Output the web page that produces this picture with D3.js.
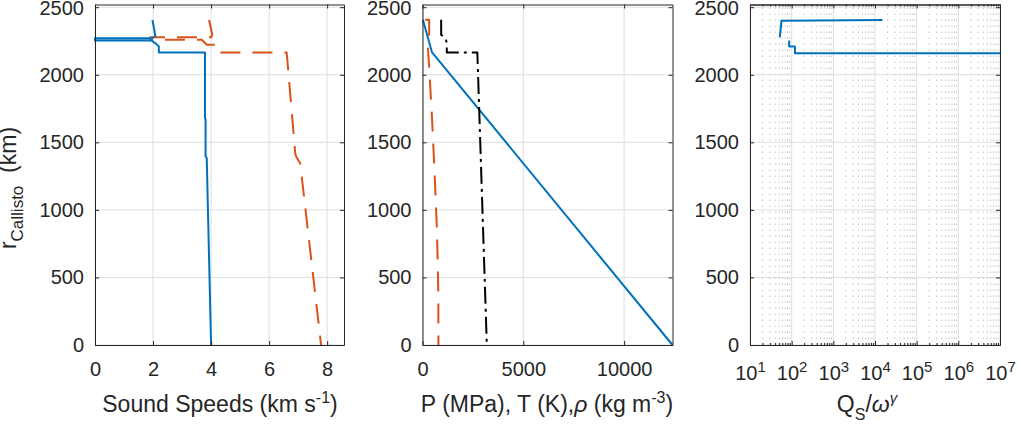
<!DOCTYPE html>
<meta charset="utf-8">
<script src="https://d3js.org/d3.v7.min.js"></script>
<title>Callisto profile</title>
<style>
body { margin: 0; background: #fff; font-family: "Liberation Sans", Arial, sans-serif; }
text { fill: #262626; }
.grid line { stroke: #dedede; stroke-width: 1; }
.minor line { stroke: #c4c4c4; stroke-width: 1; stroke-dasharray: 1.5,4.5; }
.axis path, .axis line { stroke: #262626; stroke-width: 1; }
.axis text { font-family: "Liberation Sans", Arial, sans-serif; font-size: 20px; fill: #262626; }
.lbl { font-size: 23px; white-space: pre; }
.curve { fill: none; stroke-width: 2; stroke-linejoin: round; }
</style>
<body>
<script>

var rTicks = [0, 500, 1000, 1500, 2000, 2500];

// panel 1 : sound speeds (km/s) vs radius (km)
var speedTicks = [0, 2, 4, 6, 8];
var vsRad = [2405, 2287, 2270, 2270, 2253, 2253, 2230, 2210, 2165, 2165, 1680, 1670, 1395, 1385, 0];
var vsVal = [1.98, 2.08, 1.97, 0, 0, 1.95, 2.10, 2.20, 2.20, 3.79, 3.79, 3.81, 3.81, 3.85, 4.00];
var vpRad = [2405, 2296, 2277, 2277, 2259, 2259, 2222, 2222, 2165, 2165, 2130, 1420, 1395, 1345, 0];
var vpVal = [3.93, 4.04, 4.00, 1.90, 1.90, 3.68, 3.85, 4.20, 4.25, 6.60, 6.62, 6.90, 6.93, 7.07, 7.79];

// panel 2 : P (MPa), T (K), rho (kg/m3)
var ptrTicks = [0, 5000, 10000];
var presRad = [2407, 2168, 0];
var presVal = [20, 465, 12400];
var tempRad = [2407, 2407, 2300, 2200, 2030, 1700, 1400, 1100, 870, 600, 370, 0];
var tempVal = [130, 330, 330, 270, 340, 465, 560, 650, 710, 760, 785, 790];
var rhoRad = [2407, 2296, 2264, 2210, 2165, 2165, 0];
var rhoVal = [926, 926, 1170, 1205, 1205, 2720, 3190];

// panel 3 : Q_S / omega^gamma
var qTicks = [1e1, 1e2, 1e3, 1e4, 1e5, 1e6, 1e7];
var qRadA = [2276, 2400, 2405];
var qValA = [52, 57, 15100];
var qRadB = [2254, 2210, 2210, 2160, 2160];
var qValB = [87, 87, 120, 120, 1e7];

var blue = "#0072BD", orange = "#D95319";

var svg = d3.select("body").append("svg")
    .attr("width", 1017)
    .attr("height", 428);

var y = d3.scaleLinear().domain([0, 2520]).range([345, 4.5]);

var x1 = d3.scaleLinear().domain([0, 8.58]).range([95, 344]);
var x2 = d3.scaleLinear().domain([0, 12400]).range([422.5, 672.5]);
var x3 = d3.scaleLog().domain([1e1, 1e7]).range([750, 1000]);

var qMinor = x3.ticks().filter(function(d) { return qTicks.indexOf(d) < 0; });

function grids(x, xt, minor) {
  var g = svg.append("g");
  if (minor) {
    g.append("g").attr("class", "minor")
      .selectAll("line").data(minor).enter().append("line")
        .attr("x1", function(d) { return x(d); })
        .attr("x2", function(d) { return x(d); })
        .attr("y1", y.range()[0]).attr("y2", y.range()[1]);
  }
  g.append("g").attr("class", "grid")
    .selectAll("line").data(xt).enter().append("line")
      .attr("x1", function(d) { return x(d); })
      .attr("x2", function(d) { return x(d); })
      .attr("y1", y.range()[0]).attr("y2", y.range()[1]);
  g.append("g").attr("class", "grid")
    .selectAll("line").data(rTicks).enter().append("line")
      .attr("x1", x.range()[0]).attr("x2", x.range()[1])
      .attr("y1", function(d) { return y(d); })
      .attr("y2", function(d) { return y(d); });
}

function curve(x, vals, rads, color, dash) {
  var line = d3.line()
      .x(function(d) { return x(d[0]); })
      .y(function(d) { return y(d[1]); });
  svg.append("path")
      .datum(d3.zip(vals, rads))
      .attr("class", "curve")
      .attr("d", line)
      .attr("stroke", color)
      .attr("stroke-dasharray", dash || null);
}

function axes(x, xt, fmt, pad, minor) {
  var r = x.range();
  var bottom = svg.append("g").attr("class", "axis")
      .attr("transform", "translate(0," + y(0) + ")")
      .call(d3.axisBottom(x).tickValues(xt).tickFormat(fmt)
        .tickSizeInner(-4).tickSizeOuter(0).tickPadding(pad));
  svg.append("g").attr("class", "axis")
      .attr("transform", "translate(0," + y.range()[1] + ")")
      .call(d3.axisTop(x).tickValues(xt).tickFormat("")
        .tickSizeInner(-4).tickSizeOuter(0));
  if (minor) {
    svg.append("g").attr("class", "axis")
        .attr("transform", "translate(0," + y(0) + ")")
        .call(d3.axisBottom(x).tickValues(minor).tickFormat("").tickSizeInner(-2).tickSizeOuter(0));
    svg.append("g").attr("class", "axis")
        .attr("transform", "translate(0," + y.range()[1] + ")")
        .call(d3.axisTop(x).tickValues(minor).tickFormat("").tickSizeInner(-2).tickSizeOuter(0));
  }
  var left = svg.append("g").attr("class", "axis")
      .attr("transform", "translate(" + r[0] + ",0)")
      .call(d3.axisLeft(y).tickValues(rTicks).tickFormat(function(d) { return d; })
        .tickSizeInner(-4).tickSizeOuter(0).tickPadding(11));
  // keep the top label just inside the picture
  left.selectAll(".tick text").filter(function(d) { return d === 2500; }).attr("dy", "0.37em");
  svg.append("g").attr("class", "axis")
      .attr("transform", "translate(" + r[1] + ",0)")
      .call(d3.axisRight(y).tickValues(rTicks).tickFormat("")
        .tickSizeInner(-4).tickSizeOuter(0));
  return bottom;
}

// panel 1
grids(x1, speedTicks);
curve(x1, vpVal, vpRad, orange, "20,12");
curve(x1, vsVal, vsRad, blue);
axes(x1, speedTicks, function(d) { return d; }, 17);

// panel 2
grids(x2, ptrTicks);
curve(x2, presVal, presRad, blue);
curve(x2, tempVal, tempRad, orange, "20,12");
curve(x2, rhoVal, rhoRad, "#000", "17,5,3,5");
axes(x2, ptrTicks, function(d) { return d; }, 17);

// panel 3
grids(x3, qTicks, qMinor);
curve(x3, qValA, qRadA, blue);
curve(x3, qValB, qRadB, blue);
var qAxis = axes(x3, qTicks, function(d) { return d; }, 21, qMinor);
qAxis.selectAll(".tick text").each(function(d) {
  var t = d3.select(this);
  t.text(null);
  t.append("tspan").text("10");
  t.append("tspan").attr("dy", "-8").style("font-size", "15px").text(Math.round(Math.log10(d)));
});

// axis labels
var l1 = svg.append("text").attr("class", "lbl")
    .attr("x", 220).attr("y", 411.5).attr("text-anchor", "middle");
l1.append("tspan").text("Sound Speeds (km s");
l1.append("tspan").attr("dy", -9).style("font-size", "16px").text("-1");
l1.append("tspan").attr("dy", 9).text(")");

var l2 = svg.append("text").attr("class", "lbl")
    .attr("x", 547).attr("y", 411.5).attr("text-anchor", "middle");
l2.append("tspan").text("P (MPa), T (K),");
l2.append("tspan").style("font-style", "italic").text("\u03c1");
l2.append("tspan").text(" (kg m");
l2.append("tspan").attr("dy", -9).style("font-size", "16px").text("-3");
l2.append("tspan").attr("dy", 9).text(")");

var l3 = svg.append("text").attr("class", "lbl")
    .attr("x", 867).attr("y", 411.5).attr("text-anchor", "middle");
l3.append("tspan").text("Q");
l3.append("tspan").attr("dy", 8).style("font-size", "16px").text("S");
l3.append("tspan").attr("dy", -8).text("/");
l3.append("tspan").style("font-style", "italic").text("\u03c9");
l3.append("tspan").attr("dy", -9).style("font-size", "15px").style("font-style", "italic").text("\u03b3");

var ly = svg.append("text").attr("class", "lbl")
    .attr("transform", "translate(16,188) rotate(-90)")
    .attr("text-anchor", "middle");
ly.append("tspan").text("r");
ly.append("tspan").attr("dy", 7).style("font-size", "17px").text("Callisto");
ly.append("tspan").attr("dy", -7).text("  (km)");

</script>
</body>
